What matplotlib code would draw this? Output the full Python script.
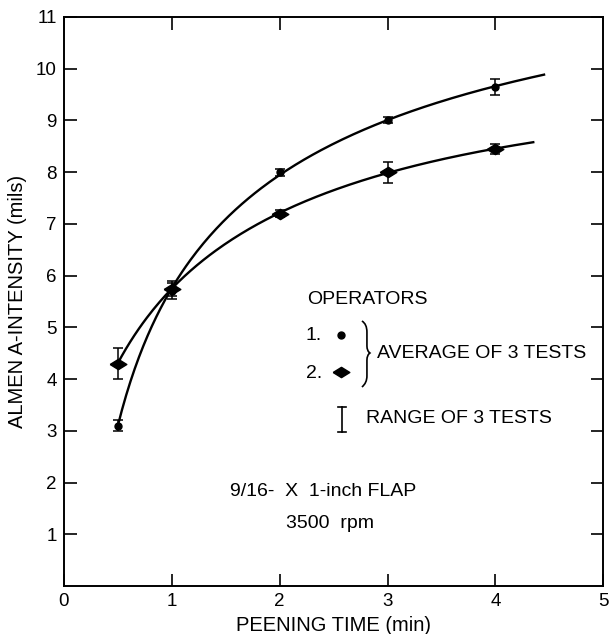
import numpy as np
import matplotlib
matplotlib.use("Agg")
import matplotlib.pyplot as plt
from matplotlib.path import Path
from matplotlib.patches import PathPatch

plt.rcParams['font.family'] = ['Liberation Sans', 'DejaVu Sans']

# peening time (min)
t = np.array([0.5, 1, 2, 3, 4])

# operator 1 -- average and range of 3 tests (mils)
op1_avg = np.array([3.1, 5.7, 8.0, 9.0, 9.65])
op1_lo = np.array([3.0, 5.55, 7.93, 8.95, 9.5])
op1_hi = np.array([3.2, 5.85, 8.07, 9.07, 9.8])
op1_end = 4.45

# operator 2
op2_avg = np.array([4.3, 5.75, 7.2, 8.0, 8.45])
op2_lo = np.array([4.0, 5.6, 7.13, 7.8, 8.35])
op2_hi = np.array([4.6, 5.9, 7.27, 8.2, 8.55])
op2_end = 4.35

xticks = [0, 1, 2, 3, 4, 5]
yticks = [1, 2, 3, 4, 5, 6, 7, 8, 9, 10, 11]

# flattened diamond marker
diamond = [(-1, 0), (0, 0.62), (1, 0), (0, -0.62), (-1, 0)]

fig = plt.figure(figsize=(6.12, 6.34), dpi=100)
ax = fig.add_axes([0.104, 0.0757, 0.882, 0.8975])

def smooth(x, y, xend, deg):
    c = np.polyfit(np.log(x), y, deg)
    xs = np.linspace(x[0], xend, 200)
    return xs, np.polyval(c, np.log(xs))

xs, ys = smooth(t, op1_avg, op1_end, 2)
ax.plot(xs, ys, color='black', lw=1.7)
xs, ys = smooth(t, op2_avg, op2_end, 3)
ax.plot(xs, ys, color='black', lw=1.7)

ax.errorbar(t, op1_avg, yerr=[op1_avg - op1_lo, op1_hi - op1_avg], fmt='o',
            color='black', ms=5, capsize=3.5, elinewidth=1.1, capthick=1.1)
ax.errorbar(t, op2_avg, yerr=[op2_avg - op2_lo, op2_hi - op2_avg], fmt='none',
            color='black', capsize=3.5, elinewidth=1.1, capthick=1.1)
ax.plot(t, op2_avg, ls='none', marker=diamond, ms=12, color='black')

ax.set_xlim(0, 5)
ax.set_ylim(0, 11)
ax.set_xticks(xticks)
ax.set_yticks(yticks)
ax.tick_params(direction='in', length=9, width=1.2, labelsize=13.5,
               top=True, right=True, pad=5)
for s in ax.spines.values():
    s.set_linewidth(1.4)

ax.set_xlabel('PEENING TIME (min)', fontsize=14.5, labelpad=4)
ax.set_ylabel('ALMEN A-INTENSITY (mils)', fontsize=14.5, labelpad=6)

# legend drawn by hand in axes fraction
def fx(px):
    return (px - 63.7) / 539.8

def fy(py):
    return (586 - py) / 569

tr = ax.transAxes
kw = dict(transform=tr, fontsize=14, va='center')
ax.text(fx(307), fy(300), 'OPERATORS', ha='left', **kw)
ax.text(fx(306), fy(336), '1.', ha='left', **kw)
ax.text(fx(306), fy(373), '2.', ha='left', **kw)
ax.plot([fx(341)], [fy(335)], 'o', color='black', ms=5, transform=tr)
ax.plot([fx(341)], [fy(372)], marker=diamond, ms=12, color='black', transform=tr)

brace = Path([(fx(362), fy(321)), (fx(367), fy(324)), (fx(367), fy(332)),
              (fx(367), fy(346)),
              (fx(367), fy(351)), (fx(370), fy(353)),
              (fx(367), fy(355)), (fx(367), fy(360)),
              (fx(367), fy(376)),
              (fx(367), fy(383)), (fx(362), fy(387))],
             [Path.MOVETO, Path.CURVE3, Path.CURVE3, Path.LINETO,
              Path.CURVE3, Path.CURVE3, Path.CURVE3, Path.CURVE3,
              Path.LINETO, Path.CURVE3, Path.CURVE3])
ax.add_patch(PathPatch(brace, transform=tr, fill=False, lw=1.2, color='black'))
ax.text(fx(377), fy(353), 'AVERAGE OF 3 TESTS', ha='left', **kw)

ax.plot([fx(342), fx(342)], [fy(407), fy(432)], color='black', lw=1.2, transform=tr)
ax.plot([fx(338), fx(346)], [fy(407), fy(407)], color='black', lw=1.2, transform=tr)
ax.plot([fx(338), fx(346)], [fy(432), fy(432)], color='black', lw=1.2, transform=tr)
ax.text(fx(366), fy(418), 'RANGE OF 3 TESTS', ha='left', **kw)

ax.text(fx(323), fy(491), '9/16-  X  1-inch FLAP', ha='center', **kw)
ax.text(fx(330), fy(523), '3500  rpm', ha='center', **kw)

fig.savefig('out.png', dpi=100)
